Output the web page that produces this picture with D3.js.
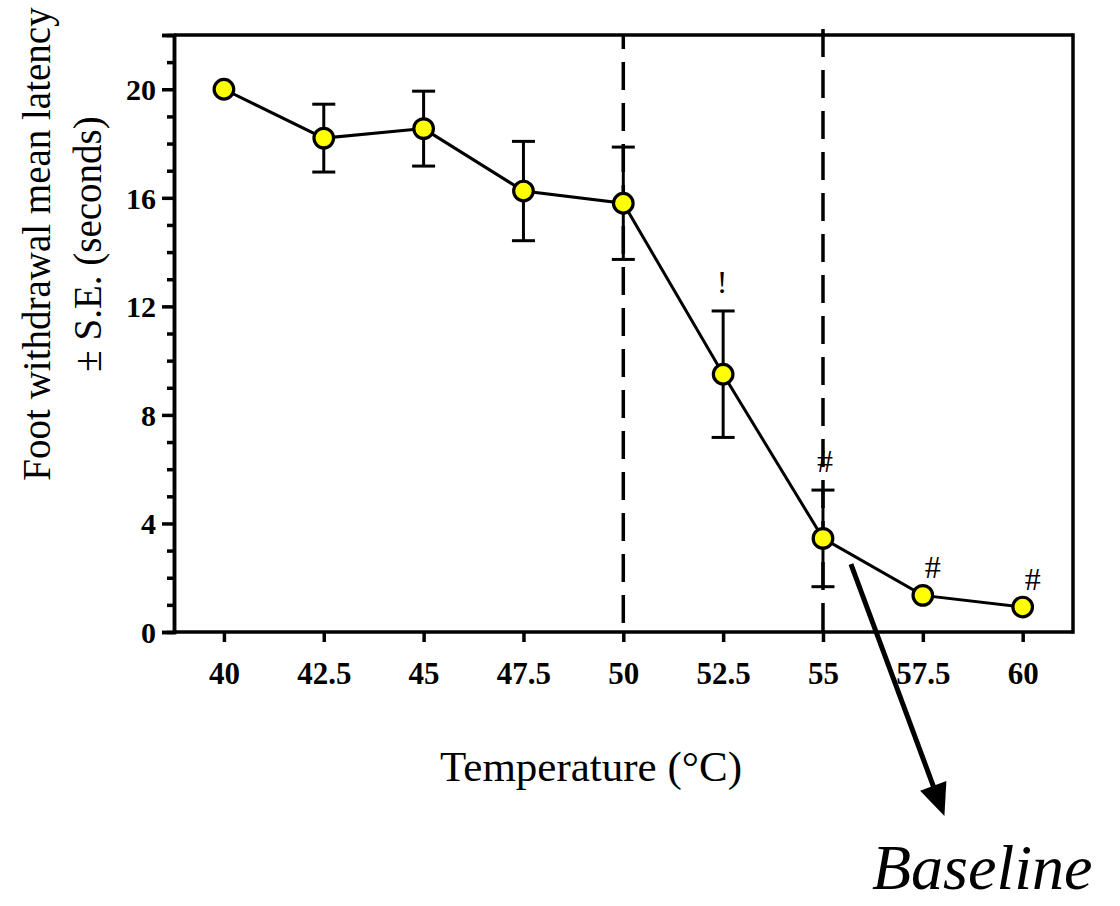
<!DOCTYPE html>
<html>
<head>
<meta charset="utf-8">
<script src="https://cdn.jsdelivr.net/npm/d3@7/dist/d3.min.js"></script>
<style>
  html, body { margin: 0; padding: 0; background: #fff; }
  svg { display: block; }
</style>
</head>
<body>
<svg id="chart" width="1120" height="906"></svg>
<script>
// Temperature steps (°C)
const temperatures = [40, 42.5, 45, 47.5, 50, 52.5, 55, 57.5, 60];
// Mean foot withdrawal latency (s)
const latency = [20.0, 18.2, 18.55, 16.25, 15.8, 9.5, 3.45, 1.35, 0.92];
// Standard error (s)
const stdErr = [0, 1.25, 1.38, 1.83, 2.07, 2.33, 1.78, 0, 0];
// Significance marks above points
const sigMarks = ["", "", "", "", "", "!", "#", "#", "#"];
// Tick labels
const xTickLabels = ["40", "42.5", "45", "47.5", "50", "52.5", "55", "57.5", "60"];
const yMajorTicks = [0, 4, 8, 12, 16, 20];
const yMinorTicks = d3.range(1, 22);
// Reference temperatures marked with dashed lines
const refLines = [50, 55];

const svg = d3.select("#chart");
const serif = "'Liberation Serif', 'Times New Roman', serif";

const x = d3.scaleLinear().domain([38.75, 61.26]).range([174, 1073]);
const y = d3.scaleLinear().domain([0, 22]).range([632, 35]);

const black = "#000";

// Frame: top and right edges
svg.append("line").attr("x1", x.range()[0]).attr("x2", x.range()[1])
  .attr("y1", y(22)).attr("y2", y(22)).attr("stroke", black).attr("stroke-width", 3.5);
svg.append("line").attr("x1", x.range()[1]).attr("x2", x.range()[1])
  .attr("y1", y(22) - 1.75).attr("y2", y(0) + 1.75).attr("stroke", black).attr("stroke-width", 3.5);

// Y axis with minor ticks
const yAxisG = svg.append("g").attr("transform", `translate(${x.range()[0]},0)`);
yAxisG.call(d3.axisLeft(y).tickValues(yMinorTicks.filter(v => !yMajorTicks.includes(v) && v !== 22))
  .tickSize(7).tickFormat(""));
yAxisG.append("g").call(d3.axisLeft(y).tickValues([...yMajorTicks, 22]).tickSize(12)
  .tickFormat(d => d === 22 ? "" : d).tickPadding(6));
yAxisG.selectAll("path.domain").attr("stroke", black).attr("stroke-width", 3.5);
yAxisG.selectAll(".tick line").attr("stroke", black).attr("stroke-width", 3.5);
yAxisG.selectAll(".tick text").attr("font-family", serif).attr("font-weight", "bold")
  .attr("font-size", 30).attr("fill", black).attr("dy", "0.34em");

// X axis
const xAxisG = svg.append("g").attr("transform", `translate(0,${y(0)})`);
xAxisG.call(d3.axisBottom(x).tickValues(temperatures).tickSize(10).tickPadding(20)
  .tickFormat((d, i) => xTickLabels[i]));
xAxisG.selectAll("path.domain").attr("stroke", black).attr("stroke-width", 3.5);
xAxisG.selectAll(".tick line").attr("stroke", black).attr("stroke-width", 3.5);
xAxisG.selectAll(".tick text").attr("font-family", serif).attr("font-weight", "bold")
  .attr("font-size", 31).attr("fill", black);
xAxisG.selectAll("path.domain").attr("d", `M${x.range()[0]},0H${x.range()[1]}`);

// Dashed reference lines
const dashOffsets = [14, 0];
const dashTops = [y(22), y(22) - 6];
svg.selectAll("line.ref").data(refLines).join("line")
  .attr("class", "ref")
  .attr("x1", d => x(d)).attr("x2", d => x(d))
  .attr("y1", (d, i) => dashTops[i]).attr("y2", y(0))
  .attr("stroke", black).attr("stroke-width", 3.5)
  .attr("stroke-dasharray", "28,13")
  .attr("stroke-dashoffset", (d, i) => dashOffsets[i]);

const pts = temperatures.map((t, i) => ({ t, m: latency[i], se: stdErr[i], mark: sigMarks[i] }));

// Error bars
const eb = svg.append("g").selectAll("g").data(pts.filter(p => p.se > 0)).join("g");
eb.append("line").attr("x1", p => x(p.t)).attr("x2", p => x(p.t))
  .attr("y1", p => y(p.m + p.se)).attr("y2", p => y(p.m - p.se))
  .attr("stroke", black).attr("stroke-width", 3);
eb.append("line").attr("x1", p => x(p.t) - 11.5).attr("x2", p => x(p.t) + 11.5)
  .attr("y1", p => y(p.m + p.se)).attr("y2", p => y(p.m + p.se))
  .attr("stroke", black).attr("stroke-width", 3);
eb.append("line").attr("x1", p => x(p.t) - 11.5).attr("x2", p => x(p.t) + 11.5)
  .attr("y1", p => y(p.m - p.se)).attr("y2", p => y(p.m - p.se))
  .attr("stroke", black).attr("stroke-width", 3);

// Connecting line
svg.append("path").datum(pts)
  .attr("d", d3.line().x(p => x(p.t)).y(p => y(p.m)))
  .attr("fill", "none").attr("stroke", black).attr("stroke-width", 3);

// Markers
svg.append("g").selectAll("circle").data(pts).join("circle")
  .attr("cx", p => x(p.t)).attr("cy", p => y(p.m)).attr("r", 9.8)
  .attr("fill", "#ffff00").attr("stroke", black).attr("stroke-width", 3.2);

// Significance marks
svg.append("g").selectAll("text").data(pts.filter(p => p.mark)).join("text")
  .attr("x", p => x(p.t) + (p.t > 55 ? 10 : 2) + (p.mark === "!" ? -3 : 0))
  .attr("y", p => p.se > 0 ? y(p.m + p.se) - 18 : y(p.m) - 17)
  .attr("text-anchor", "middle")
  .attr("font-family", serif).attr("font-size", 32).attr("fill", black)
  .text(p => p.mark);

// Axis titles
svg.append("text")
  .attr("x", 591)
  .attr("y", 781)
  .attr("text-anchor", "middle").attr("font-family", serif).attr("font-size", 43)
  .attr("fill", black).text("Temperature (°C)");

const yTitle = svg.append("text")
  .attr("transform", "translate(0,244) rotate(-90)")
  .attr("text-anchor", "middle").attr("font-family", serif).attr("font-size", 39)
  .attr("fill", black);
yTitle.append("tspan").attr("x", 0).attr("y", 50).text("Foot withdrawal mean latency");
yTitle.append("tspan").attr("x", 0).attr("y", 101).text("± S.E. (seconds)");

// Baseline callout arrow
const arrowStart = [x(55.7), y(2.5)];
const arrowTip = [x(58.04), y(-6.78)];
const dx = arrowTip[0] - arrowStart[0], dy = arrowTip[1] - arrowStart[1];
const len = Math.hypot(dx, dy), ux = dx / len, uy = dy / len;
const headLen = 32, headHalf = 14;
const base = [arrowTip[0] - ux * headLen, arrowTip[1] - uy * headLen];
svg.append("line")
  .attr("x1", arrowStart[0]).attr("y1", arrowStart[1])
  .attr("x2", base[0] + ux * 2).attr("y2", base[1] + uy * 2)
  .attr("stroke", black).attr("stroke-width", 5);
svg.append("polygon")
  .attr("points", [arrowTip,
    [base[0] - uy * headHalf, base[1] + ux * headHalf],
    [base[0] + uy * headHalf, base[1] - ux * headHalf]].map(p => p.join(",")).join(" "))
  .attr("fill", black);

svg.append("text")
  .attr("x", 872).attr("y", 889)
  .attr("font-family", serif).attr("font-style", "italic").attr("font-size", 64)
  .attr("fill", black).text("Baseline");
</script>
</body>
</html>
